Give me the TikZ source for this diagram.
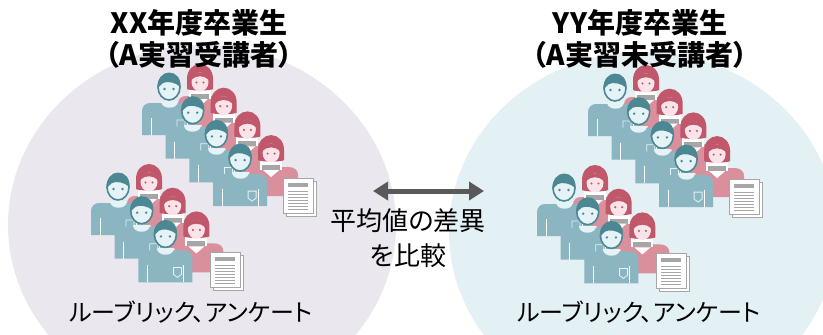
\documentclass[tikz,border=0pt]{standalone}
\usepackage{fontspec}
\newfontfamily\jp{Noto Sans CJK JP}[RawFeature=+palt]
\usepackage{tikz}
\usetikzlibrary{arrows.meta}
\definecolor{lila}{HTML}{EAE7EF}
\definecolor{aqua}{HTML}{E3F0F4}
\definecolor{mshirt}{HTML}{8BB5C1}
\definecolor{mhair}{HTML}{4B8894}
\definecolor{mface}{HTML}{E5F2F6}
\definecolor{fshirt}{HTML}{D9909C}
\definecolor{fhair}{HTML}{C1576B}
\definecolor{fface}{HTML}{FBE4E9}
\definecolor{paper}{HTML}{A6A6A6}
\definecolor{arrowgray}{HTML}{595959}
\newcommand{\stairstep}{23.7}

\begin{document}
\begin{tikzpicture}[x=1pt,y=-1pt,
	title/.style={align=center,font=\jp\bfseries\fontsize{28}{32}\selectfont},
	label/.style={align=center,font=\jp\fontsize{26}{35}\selectfont},
	cmparrow/.style={arrowgray,line width=5pt,
		{Triangle[length=15pt,width=18pt]}-{Triangle[length=15pt,width=18pt]}},
	man/.pic={
		\fill[mshirt] (-27,48) -- (-27,24) .. controls (-27,19) and (-23,16) .. (-19,16)
			-- (19,16) .. controls (23,16) and (27,19) .. (27,24) -- (27,48) -- cycle;
		\fill[mface] (-8.5,14) .. controls (-8.5,23) and (8.5,23) .. (8.5,14) -- cycle;
		\draw[white,line width=1pt] (-18,31) -- (-18,48) (18,31) -- (18,48);
		\draw[mface,line width=.8pt] (8,33) -- (16,33) -- (16,40) -- (12,43) -- (8,40) -- cycle;
		\filldraw[fill=mface,draw=mhair,line width=1.6pt] (0,0) ellipse [x radius=11pt,y radius=13pt];
		\fill[mhair] (-11.5,2) .. controls (-12,-9) and (-6,-14.5) .. (0,-14.5)
			.. controls (7,-14.5) and (12,-9) .. (11.5,0)
			.. controls (6,-5) and (-2,-6) .. (-6,-4)
			.. controls (-9,-2) and (-10,0) .. (-11.5,2) -- cycle;
		\fill[mhair] (-4.5,2) circle (1.3pt) (4.5,2) circle (1.3pt);
	},
	woman/.pic={
		\fill[fshirt] (-22,46) -- (-22,25) .. controls (-22,20) and (-19,17) .. (-14,17)
			-- (18,17) .. controls (23,17) and (27,20) .. (27,25) -- (27,46) -- cycle;
		\fill[white] (-11,10) rectangle (11,20);
		\fill[paper] (-9,15) rectangle (9,20);
		\fill[white] (-8,20) -- (0,27) -- (8,20) -- cycle;
		\fill[fhair] (-13,10) -- (-13,0) .. controls (-13,-9) and (-7,-15) .. (0,-15)
			.. controls (7,-15) and (13,-9) .. (13,0) -- (13,10)
			.. controls (10,12) and (-10,12) .. (-13,10) -- cycle;
		\fill[fface] (0,3) ellipse [x radius=8.5pt,y radius=9.5pt];
		\fill[fhair] (-9,1) .. controls (-8,-9) and (8,-9) .. (9,1)
			.. controls (4,-4) and (-4,-4) .. (-9,1) -- cycle;
		\fill[fhair] (-3.5,3.5) circle (1.2pt) (3.5,3.5) circle (1.2pt);
	},
	pair/.pic={
		\pic at (31,-8) {woman};
		\pic {man};
	},
	sheet/.pic={
		\filldraw[fill=white,draw=paper,line width=.8pt] (3,3) rectangle (33,38);
		\filldraw[fill=white,draw=paper,line width=.8pt] (0,0) rectangle (30,35);
		\fill[paper] (5,5) rectangle (25,9);
		\foreach \k in {0,...,6}
			\draw[paper,line width=.6pt] (5,13+3*\k) -- (25,13+3*\k);
	},
	crowd/.pic={
		\foreach \i in {0,...,3}
			\pic at ({\i*\stairstep},{\i*\stairstep}) {pair};
		\pic at (114,91) {sheet};
		\foreach \i in {0,...,2}
			\pic at ({-51+\i*\stairstep},{100+\i*\stairstep}) {pair};
		\pic at (41,165) {sheet};
	}]
	\useasboundingbox (0,0) rectangle (823,335);
	\begin{scope}
		\clip (0,0) rectangle (823,335);
		\fill[lila] (202,225) ellipse [x radius=194pt,y radius=180pt];
		\fill[aqua] (643,232) ellipse [x radius=194pt,y radius=180pt];
	\end{scope}
	
	% graduates of both years
	\pic at (169,87) {crowd};
	\pic at (615,88) {crowd};
	
	\node[title] (titleL) at (199,39) {XX年度卒業生\\（A実習受講者）};
	\node[title] (titleR) at (640,39) {YY年度卒業生\\（A実習未受講者）};
	
	\coordinate (arrL) at (373,191);
	\coordinate (arrR) at (484,191);
	\draw[cmparrow] (arrL) -- (arrR);
	\node[label] (cmp) at (408,238) {平均値の差異\\を比較};
	
	\node[label,font=\jp\fontsize{24}{30}\selectfont] (toolL) at (191,312) {ルーブリック、アンケート};
	\node[label,font=\jp\fontsize{24}{30}\selectfont] (toolR) at (639,312) {ルーブリック、アンケート};
\end{tikzpicture}
\end{document}
